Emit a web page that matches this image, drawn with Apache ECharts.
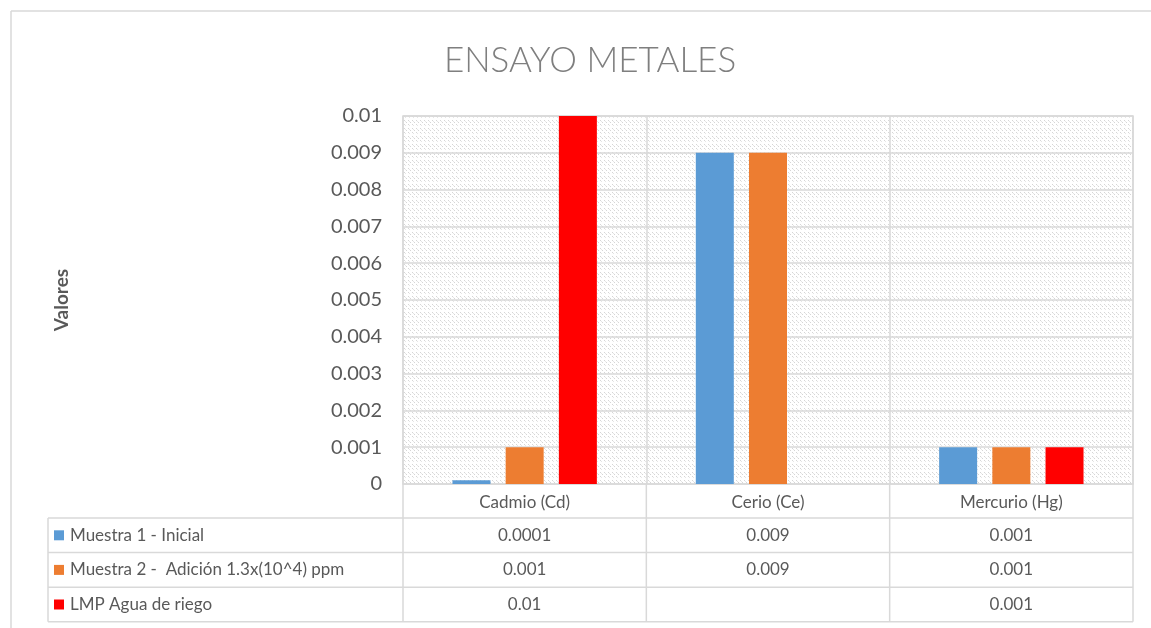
<!DOCTYPE html>
<html>
<head>
<meta charset="utf-8">
<script src="https://cdn.jsdelivr.net/npm/echarts@6/dist/echarts.min.js"></script>
<style>
  html, body { margin: 0; padding: 0; background: #fff; }
  #chart { width: 1151px; height: 628px; }
</style>
</head>
<body>
<div id="chart"></div>
<script>
// Metal concentrations per element
const categories = ['Cadmio (Cd)', 'Cerio (Ce)', 'Mercurio (Hg)'];
const seriesNames = ['Muestra 1 - Inicial', 'Muestra 2 -  Adición 1.3x(10^4) ppm', 'LMP Agua de riego'];
const muestra1 = [0.0001, 0.009, 0.001];
const muestra2 = [0.001, 0.009, 0.001];
const lmpRiego = [0.01, null, 0.001];
// Text shown in the data table (blank where there is no value)
const tableText = [
  ['0.0001', '0.009', '0.001'],
  ['0.001', '0.009', '0.001'],
  ['0.01', '', '0.001']
];
const colors = ['#5B9BD5', '#ED7D31', '#FF0000'];

const FONT = 'Lato, "Open Sans", sans-serif';
const TEXT = '#595959';
const LINE = '#d9d9d9';

// Layout of plot area and table
const W = 1151, H = 628;
const plotLeft = 403, plotRight = 1133, plotTop = 116, plotBottom = 484;
const headerH = 34, rowH = 34.6, labelLeft = 48;

// Dotted diagonal fill for the plot area
function makePattern() {
  const c = document.createElement('canvas');
  c.width = 8; c.height = 8;
  const g = c.getContext('2d');
  g.fillStyle = '#ffffff';
  g.fillRect(0, 0, 8, 8);
  g.fillStyle = '#d6d6d6';
  [[0,0],[2,2],[4,4],[4,0],[6,2],[0,4]].forEach(p => g.fillRect(p[0], p[1], 1, 1));
  g.fillStyle = '#e6e6e6';
  [[1,1],[5,1],[1,5],[5,5]].forEach(p => g.fillRect(p[0], p[1], 1, 1));
  return c;
}

const chart = echarts.init(document.getElementById('chart'), null, { renderer: 'canvas' });

const seriesData = [muestra1, muestra2, lmpRiego];

function buildTable() {
  const els = [];
  const n = categories.length;
  const colW = (plotRight - plotLeft) / n;
  const rowsTop = plotBottom + headerH;
  const tableBottom = rowsTop + rowH * seriesNames.length;
  const line = (x1, y1, x2, y2) => ({
    type: 'line', silent: true,
    shape: { x1, y1, x2, y2 },
    style: { stroke: LINE, lineWidth: 1.5 }
  });
  // horizontal rules
  for (let r = 0; r <= seriesNames.length; r++) {
    const y = rowsTop + r * rowH;
    els.push(line(labelLeft, y, plotRight, y));
  }
  // vertical rules
  els.push(line(labelLeft, rowsTop, labelLeft, tableBottom));
  for (let i = 0; i <= n; i++) {
    const x = plotLeft + i * colW;
    els.push(line(x, plotBottom, x, tableBottom));
  }
  // legend keys + values
  seriesNames.forEach((name, r) => {
    const cy = rowsTop + r * rowH + rowH / 2;
    els.push({
      type: 'rect', silent: true,
      shape: { x: labelLeft + 6, y: cy - 5, width: 10, height: 10 },
      style: { fill: colors[r] }
    });
    els.push({
      type: 'text', silent: true,
      x: labelLeft + 22, y: cy,
      style: { text: name, fill: TEXT, font: '17px ' + FONT, verticalAlign: 'middle', align: 'left' }
    });
    tableText[r].forEach((t, i) => {
      els.push({
        type: 'text', silent: true,
        x: plotLeft + (i + 0.5) * colW, y: cy,
        style: { text: t, fill: TEXT, font: '17px ' + FONT, verticalAlign: 'middle', align: 'center' }
      });
    });
  });
  // outer chart frame
  els.push(line(11, 11, W, 11));
  els.push(line(11, 11, 11, H));
  return els;
}

chart.setOption({
  animation: false,
  backgroundColor: '#ffffff',
  textStyle: { fontFamily: FONT },
  title: {
    text: 'ENSAYO METALES',
    left: 585, top: 38, textAlign: 'center',
    textStyle: { fontFamily: FONT, fontSize: 35, fontWeight: 300, color: '#7f7f7f' }
  },
  grid: {
    left: plotLeft, right: W - plotRight, top: plotTop, bottom: H - plotBottom,
    show: true,
    backgroundColor: { image: makePattern(), repeat: 'repeat' },
    borderColor: LINE, borderWidth: 1.5
  },
  xAxis: {
    type: 'category',
    data: categories,
    axisLine: { show: false },
    axisTick: { show: false },
    axisLabel: { color: TEXT, fontSize: 17, fontFamily: FONT, margin: 10 },
    splitLine: { show: true, lineStyle: { color: LINE, width: 1.5 } }
  },
  yAxis: {
    type: 'value',
    min: 0, max: 0.01, interval: 0.001,
    name: 'Valores',
    nameLocation: 'middle',
    nameGap: 332,
    nameRotate: 90,
    nameTextStyle: { color: TEXT, fontSize: 19, fontWeight: 'bold', fontFamily: FONT },
    axisLine: { show: false },
    axisTick: { show: false },
    axisLabel: {
      color: TEXT, fontSize: 20, fontFamily: FONT, margin: 21,
      formatter: v => String(Number(v.toFixed(4)))
    },
    splitLine: { show: true, lineStyle: { color: LINE, width: 1.5 } }
  },
  series: seriesNames.map((name, i) => ({
    name,
    type: 'bar',
    data: seriesData[i],
    barWidth: 38,
    barGap: '40%',
    itemStyle: { color: colors[i] }
  })),
  graphic: buildTable()
});
</script>
</body>
</html>
